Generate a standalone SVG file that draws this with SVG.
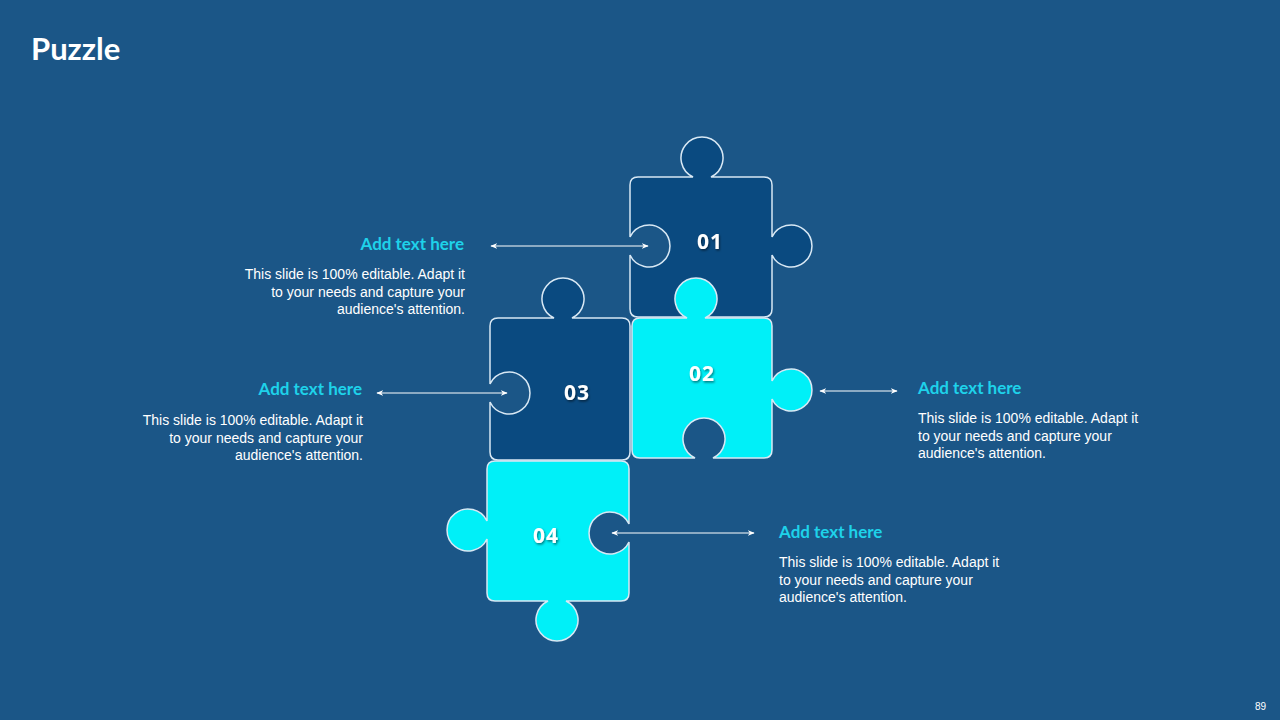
<svg xmlns="http://www.w3.org/2000/svg" width="1280" height="720" viewBox="0 0 1280 720">
<defs>
<style>
.dark{fill:#0A4A80;stroke:#D8E8F4;stroke-width:1.5}
.cyan{fill:#00F0F8;stroke:#D8E8F4;stroke-width:1.5}
.num{font-family:"Open Sans","DejaVu Sans",sans-serif;font-weight:bold;font-size:21px;fill:#fff;text-anchor:middle;letter-spacing:1px}
.h{font-family:"Lato","Open Sans",sans-serif;font-weight:bold;font-size:17px;fill:#1ED2EA}
.b{font-family:"Liberation Sans",Arial,sans-serif;font-size:14px;fill:#fff}
.r{text-anchor:end}
.con{stroke:#fff;stroke-width:1;fill:none;marker-start:url(#a);marker-end:url(#a)}
</style>
<marker id="a" viewBox="0 0 10 10" refX="9" refY="5" markerWidth="7" markerHeight="7" orient="auto-start-reverse"><path d="M0,1 L10,5 L0,9 L3,5 Z" fill="#fff"/></marker>
<filter id="sh"><feDropShadow dx="1" dy="1.5" stdDeviation="1" flood-color="#000" flood-opacity="0.5"/></filter>
</defs>
<rect width="1280" height="720" fill="#1B5687"/>
<text x="31" y="60" font-family="Lato,'Open Sans',sans-serif" font-weight="bold" font-size="31" fill="#fff">Puzzle</text>
<g id="piece01">
<path class="dark" d="M638,177 L693,177 A21 21 0 1 1 711,177 L764,177 Q772,177 772,185 L772,237 A21 21 0 1 1 772,255 L772,309 Q772,317 764,317 L638,317 Q630,317 630,309 L630,255 A21 21 0 1 0 630,237 L630,185 Q630,177 638,177 Z"/>
<text class="num" x="710" y="249" filter="url(#sh)">01</text>
</g>
<g id="piece02">
<path class="cyan" d="M640,318 L687,318 A21 21 0 1 1 705,318 L764,318 Q772,318 772,326 L772,381 A21 21 0 1 1 772,399 L772,450 Q772,458 764,458 L713,458 A21 21 0 1 0 695,458 L640,458 Q632,458 632,450 L632,326 Q632,318 640,318 Z"/>
<text class="num" x="702" y="381" filter="url(#sh)">02</text>
</g>
<g id="piece03">
<path class="dark" d="M498,318 L554,318 A21 21 0 1 1 572,318 L622,318 Q630,318 630,326 L630,452 Q630,460 622,460 L498,460 Q490,460 490,452 L490,402 A21 21 0 1 0 490,384 L490,326 Q490,318 498,318 Z"/>
<text class="num" x="577" y="400" filter="url(#sh)">03</text>
</g>
<g id="piece04">
<path class="cyan" d="M495,461 L621,461 Q629,461 629,469 L629,524 A21 21 0 1 0 629,542 L629,593 Q629,601 621,601 L566,601 A21 21 0 1 1 548,601 L495,601 Q487,601 487,593 L487,539 A21 21 0 1 1 487,521 L487,469 Q487,461 495,461 Z"/>
<text class="num" x="546" y="543" filter="url(#sh)">04</text>
</g>
<g id="connectors">
<line class="con" x1="491" y1="246" x2="648" y2="246"/>
<line class="con" x1="377" y1="393" x2="507" y2="393"/>
<line class="con" x1="820" y1="391" x2="897" y2="391"/>
<line class="con" x1="612" y1="533" x2="754" y2="533"/>
</g>
<g id="text1">
<text class="h r" x="464" y="250">Add text here</text>
<text class="b r" x="465" y="279">This slide is 100% editable. Adapt it</text>
<text class="b r" x="465" y="297">to your needs and capture your</text>
<text class="b r" x="465" y="314">audience's attention.</text>
</g>
<g id="text2">
<text class="h r" x="362" y="395">Add text here</text>
<text class="b r" x="363" y="425">This slide is 100% editable. Adapt it</text>
<text class="b r" x="363" y="443">to your needs and capture your</text>
<text class="b r" x="363" y="460">audience's attention.</text>
</g>
<g id="text3">
<text class="h" x="918" y="394">Add text here</text>
<text class="b" x="918" y="423">This slide is 100% editable. Adapt it</text>
<text class="b" x="918" y="441">to your needs and capture your</text>
<text class="b" x="918" y="458">audience's attention.</text>
</g>
<g id="text4">
<text class="h" x="779" y="538">Add text here</text>
<text class="b" x="779" y="567">This slide is 100% editable. Adapt it</text>
<text class="b" x="779" y="585">to your needs and capture your</text>
<text class="b" x="779" y="602">audience's attention.</text>
</g>
<text x="1266" y="710" font-family="Liberation Sans,Arial,sans-serif" font-size="10" fill="#fff" text-anchor="end">89</text>
</svg>
